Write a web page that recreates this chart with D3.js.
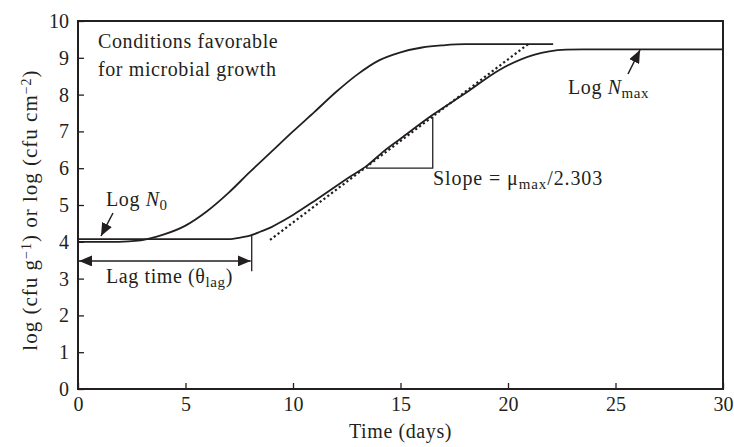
<!DOCTYPE html>
<html>
<head>
<meta charset="utf-8">
<script src="https://cdn.jsdelivr.net/npm/d3@7"></script>
<style>
  body { margin: 0; background: #fff; }
  svg { display: block; font-family: "Liberation Serif", serif; }
</style>
</head>
<body>
<svg id="chart" width="734" height="447"></svg>
<script>
// Values
const fastDays = [0, 1.9, 2.8, 3.4, 4, 5, 6, 7, 8, 9, 10, 11, 12, 13, 14, 15, 16, 17, 18, 22.1];
const fastLog  = [4.0, 4.0, 4.03, 4.1, 4.2, 4.44, 4.83, 5.33, 5.9, 6.45, 7.0, 7.53, 8.07, 8.55, 8.93, 9.15, 9.28, 9.34, 9.37, 9.37];

const slowDays = [0, 7, 7.6, 8, 8.5, 9, 9.5, 10, 11.1, 12.65, 13.4, 14.2, 15, 16.5, 18.1, 19.6, 21.2, 22.7, 23.5, 30];
const slowLog  = [4.07, 4.07, 4.12, 4.17, 4.28, 4.4, 4.56, 4.73, 5.15, 5.77, 6.05, 6.45, 6.8, 7.45, 8.07, 8.67, 9.08, 9.22, 9.23, 9.23];

const tangentDays = [8.93, 21.0];
const tangentLog  = [4.05, 9.4];

const slopeDays = [13.4, 16.5, 16.5];
const slopeLog  = [6.0, 6.0, 7.4];

const lagDays = [0, 8.08];
const lagLog  = 3.48;
const lagMarkLog = [4.16, 3.2];

const xTicks = [0, 5, 10, 15, 20, 25, 30];
const yTicks = [0, 1, 2, 3, 4, 5, 6, 7, 8, 9, 10];

const width = 734, height = 447;
const margin = { top: 21, right: 11, bottom: 58, left: 78 };
const ink = "#231f20";

const svg = d3.select("#chart");

const x = d3.scaleLinear().domain([0, 30]).range([margin.left, width - margin.right]);
const y = d3.scaleLinear().domain([0, 10]).range([height - margin.bottom, margin.top]);

svg.append("defs").append("marker")
    .attr("id", "head")
    .attr("viewBox", "0 0 10 10")
    .attr("refX", 10).attr("refY", 5)
    .attr("markerWidth", 13).attr("markerHeight", 11)
    .attr("markerUnits", "userSpaceOnUse")
    .attr("orient", "auto-start-reverse")
    .attr("preserveAspectRatio", "none")
    .append("path")
    .attr("d", "M0,0L10,5L0,10Z")
    .attr("fill", ink);

// axes (ticks point inward)
const xAxis = svg.append("g")
    .attr("transform", `translate(0,${y(0)})`)
    .call(d3.axisBottom(x).tickValues(xTicks).tickSizeInner(-6).tickSizeOuter(0).tickPadding(8));
const yAxis = svg.append("g")
    .attr("transform", `translate(${x(0)},0)`)
    .call(d3.axisLeft(y).tickValues(yTicks).tickSizeInner(-6).tickSizeOuter(0).tickPadding(9));

[xAxis, yAxis].forEach(g => {
    g.select(".domain").remove();
    g.selectAll("line").attr("stroke", ink).attr("stroke-width", 1.3);
    g.selectAll("text")
        .attr("fill", ink)
        .style("font-family", "'Liberation Serif', serif")
        .style("font-size", "20px");
});

// frame
svg.append("rect")
    .attr("x", x(0)).attr("y", y(10))
    .attr("width", x(30) - x(0)).attr("height", y(0) - y(10))
    .attr("fill", "none").attr("stroke", ink).attr("stroke-width", 2);

const line = d3.line().x(d => x(d[0])).y(d => y(d[1])).curve(d3.curveMonotoneX);

svg.append("path")
    .attr("d", line(d3.zip(slowDays, slowLog)))
    .attr("fill", "none").attr("stroke", ink).attr("stroke-width", 1.8);

svg.append("path")
    .attr("d", line(d3.zip(fastDays, fastLog)))
    .attr("fill", "none").attr("stroke", ink).attr("stroke-width", 1.8);

// tangent at maximum growth rate
svg.append("path")
    .attr("d", d3.line().x(d => x(d[0])).y(d => y(d[1]))(d3.zip(tangentDays, tangentLog)))
    .attr("fill", "none").attr("stroke", ink).attr("stroke-width", 2.2)
    .attr("stroke-dasharray", "2.2,2.6");

// slope triangle
svg.append("path")
    .attr("d", d3.line().x(d => x(d[0])).y(d => y(d[1]))(d3.zip(slopeDays, slopeLog)))
    .attr("fill", "none").attr("stroke", ink).attr("stroke-width", 1.3);

// lag time
svg.append("line")
    .attr("x1", x(lagDays[1])).attr("x2", x(lagDays[1]))
    .attr("y1", y(lagMarkLog[0])).attr("y2", y(lagMarkLog[1]))
    .attr("stroke", ink).attr("stroke-width", 1.3);
svg.append("line")
    .attr("x1", x(lagDays[0]) + 1).attr("x2", x(lagDays[1]) - 1)
    .attr("y1", y(lagLog)).attr("y2", y(lagLog))
    .attr("stroke", ink).attr("stroke-width", 1.6)
    .attr("marker-start", "url(#head)").attr("marker-end", "url(#head)");

// pointer arrows
svg.append("line")
    .attr("x1", 113).attr("y1", 213).attr("x2", 101).attr("y2", 236)
    .attr("stroke", ink).attr("stroke-width", 1.5).attr("marker-end", "url(#head)");
svg.append("line")
    .attr("x1", 628).attr("y1", 74).attr("x2", 640).attr("y2", 50)
    .attr("stroke", ink).attr("stroke-width", 1.5).attr("marker-end", "url(#head)");

// annotations
const fs = 20;
function label(px, py, parts) {
    const t = svg.append("text")
        .attr("x", px).attr("y", py)
        .attr("fill", ink)
        .style("font-size", fs + "px")
        .style("letter-spacing", "0.6px");
    parts.forEach(p => {
        const s = t.append("tspan").text(p.text);
        if (p.italic) s.style("font-style", "italic");
        if (p.sub) s.attr("baseline-shift", "-25%").style("font-size", "15px");
        if (p.sup) s.attr("baseline-shift", "40%").style("font-size", "14px");
    });
    return t;
}

label(98, 48, [{ text: "Conditions favorable" }]);
label(98, 76, [{ text: "for microbial growth" }]);
label(106, 206, [{ text: "Log " }, { text: "N", italic: true }, { text: "0", sub: true }]);
label(106, 283, [{ text: "Lag time (θ" }, { text: "lag", sub: true }, { text: ")" }]);
label(433, 185, [{ text: "Slope = μ" }, { text: "max", sub: true }, { text: "/2.303" }])
    .style("letter-spacing", "0.9px");
label(568, 94, [{ text: "Log " }, { text: "N", italic: true }, { text: "max", sub: true }]);

// axis titles
label(x(15), 438, [{ text: "Time (days)" }]).attr("text-anchor", "middle");

const yt = label(0, 0, [
    { text: "log (cfu g" }, { text: "−1", sup: true }, { text: ") or log (cfu cm" }, { text: "−2", sup: true }, { text: ")" }
]);
yt.attr("x", null).attr("y", null)
  .attr("text-anchor", "middle")
  .style("font-size", "21px")
  .style("letter-spacing", "1px")
  .attr("transform", `translate(37,210) rotate(-90)`);
</script>
</body>
</html>
